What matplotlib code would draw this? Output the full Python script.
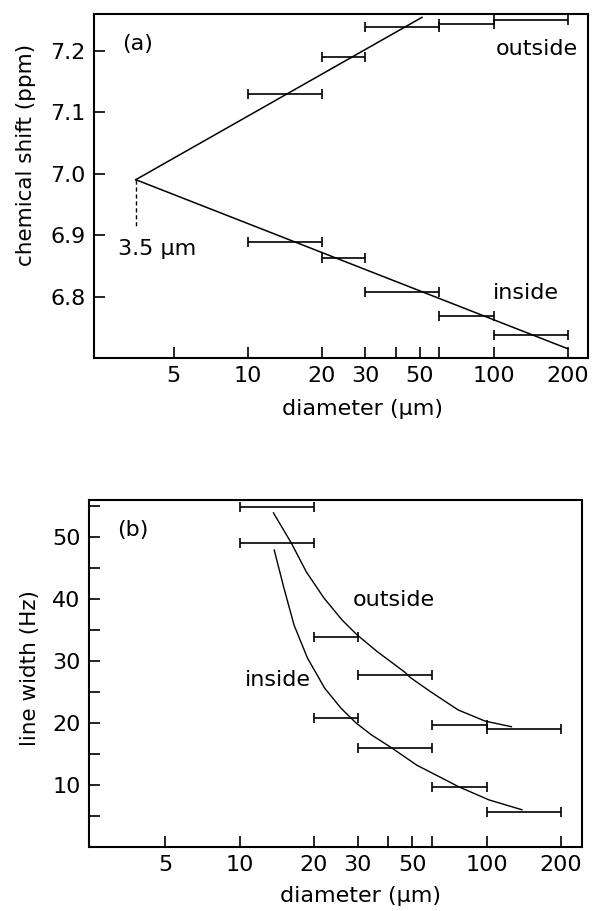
import numpy as np
import matplotlib
matplotlib.use('Agg')
import matplotlib.pyplot as plt

plt.rcParams['font.family'] = ['DejaVu Sans']

# (a) chemical shift vs diameter, size fractions as ranges
a_out_lo = [10, 20, 30, 60, 100]
a_out_hi = [20, 30, 60, 100, 200]
a_out_y = [7.130, 7.189, 7.239, 7.244, 7.249]
a_in_lo = [10, 20, 30, 60, 100]
a_in_hi = [20, 30, 60, 100, 200]
a_in_y = [6.888, 6.863, 6.808, 6.769, 6.738]
# straight fits meeting at 3.5 um
a_fit_out_x = [3.5, 51]
a_fit_out_y = [6.99, 7.254]
a_fit_in_x = [3.5, 200]
a_fit_in_y = [6.99, 6.715]
a_mark_x = [3.5, 3.5]
a_mark_y = [6.99, 6.912]

# (b) line width vs diameter
b_out_lo = [10, 20, 30, 60, 100]
b_out_hi = [20, 30, 60, 100, 200]
b_out_y = [49.0, 33.9, 27.7, 19.7, 19.0]
b_in_lo = [10, 20, 30, 60, 100]
b_in_hi = [20, 30, 60, 100, 200]
b_in_y = [54.8, 20.8, 16.0, 9.7, 5.6]
b_curve_out_x = [13.7, 16.2, 18.6, 21.9, 26.0, 29.9, 36.1, 46.6, 49.2, 59.5, 76.7, 98.6, 126]
b_curve_out_y = [53.9, 49.0, 44.4, 40.2, 36.6, 34.2, 31.5, 28.2, 27.3, 25.0, 22.1, 20.3, 19.4]
b_curve_in_x = [13.8, 15.1, 16.6, 18.8, 22.1, 25.7, 29.6, 34.1, 41.2, 52.1, 77.2, 102, 139]
b_curve_in_y = [47.9, 41.8, 35.8, 30.5, 25.6, 22.4, 20.0, 18.1, 16.0, 13.2, 9.7, 7.6, 6.0]

xticks = [5, 10, 20, 30, 40, 50, 60, 100, 200]
xticklabels = ['5', '10', '20', '30', '', '50', '', '100', '200']

FS = 16


def range_bars(ax, lo, hi, y):
    lo = np.array(lo, float)
    hi = np.array(hi, float)
    mid = np.sqrt(lo * hi)
    ax.errorbar(mid, y, xerr=[mid - lo, hi - mid], fmt='none', ecolor='black',
                elinewidth=1.2, capsize=3.5, capthick=1.2)


def style_axes(ax):
    ax.set_xscale('log')
    ax.set_xticks(xticks)
    ax.set_xticklabels(xticklabels)
    ax.xaxis.set_minor_locator(matplotlib.ticker.NullLocator())
    ax.tick_params(direction='in', length=8, width=1.2, labelsize=FS, pad=6)
    for s in ax.spines.values():
        s.set_linewidth(1.5)


fig = plt.figure(figsize=(5.92, 9.11), dpi=100)

ax1 = fig.add_axes([0.159, 0.607, 0.834, 0.378])
range_bars(ax1, a_out_lo, a_out_hi, a_out_y)
range_bars(ax1, a_in_lo, a_in_hi, a_in_y)
ax1.plot(a_fit_out_x, a_fit_out_y, color='black', lw=1.1)
ax1.plot(a_fit_in_x, a_fit_in_y, color='black', lw=1.1)
ax1.plot(a_mark_x, a_mark_y, color='black', lw=1.0, ls=(0, (3, 2)))
style_axes(ax1)
ax1.set_xlim(2.37, 241)
ax1.set_ylim(6.70, 7.26)
ax1.set_yticks([6.8, 6.9, 7.0, 7.1, 7.2])
ax1.set_yticklabels(['6.8', '6.9', '7.0', '7.1', '7.2'])
ax1.set_xlabel('diameter (\u03bcm)', fontsize=FS)
ax1.set_ylabel('chemical shift (ppm)', fontsize=15.5)
ax1.xaxis.set_label_coords(0.543, -0.118)
ax1.yaxis.set_label_coords(-0.118, 0.59)
ax1.text(3.07, 7.211, '(a)', fontsize=FS, va='center')
ax1.text(2.96, 6.878, '3.5 \u03bcm', fontsize=FS, va='center')
ax1.text(102, 7.203, 'outside', fontsize=FS, va='center')
ax1.text(99, 6.806, 'inside', fontsize=FS, va='center')

ax2 = fig.add_axes([0.150, 0.0703, 0.833, 0.381])
range_bars(ax2, b_out_lo, b_out_hi, b_out_y)
range_bars(ax2, b_in_lo, b_in_hi, b_in_y)
ax2.plot(b_curve_out_x, b_curve_out_y, color='black', lw=1.0)
ax2.plot(b_curve_in_x, b_curve_in_y, color='black', lw=1.0)
style_axes(ax2)
ax2.set_xlim(2.45, 243)
ax2.set_ylim(0, 56)
ax2.set_yticks([10, 20, 30, 40, 50])
ax2.set_yticks([5, 15, 25, 35, 45, 55], minor=True)
ax2.tick_params(axis='y', which='minor', direction='in', length=8, width=1.2)
ax2.set_xlabel('diameter (\u03bcm)', fontsize=FS)
ax2.set_ylabel('line width (Hz)', fontsize=15.5)
ax2.xaxis.set_label_coords(0.55, -0.112)
ax2.yaxis.set_label_coords(-0.098, 0.516)
ax2.text(3.2, 51.1, '(b)', fontsize=FS, va='center')
ax2.text(28.6, 39.8, 'outside', fontsize=FS, va='center')
ax2.text(10.5, 26.9, 'inside', fontsize=FS, va='center')

fig.savefig('out.png', dpi=100)
